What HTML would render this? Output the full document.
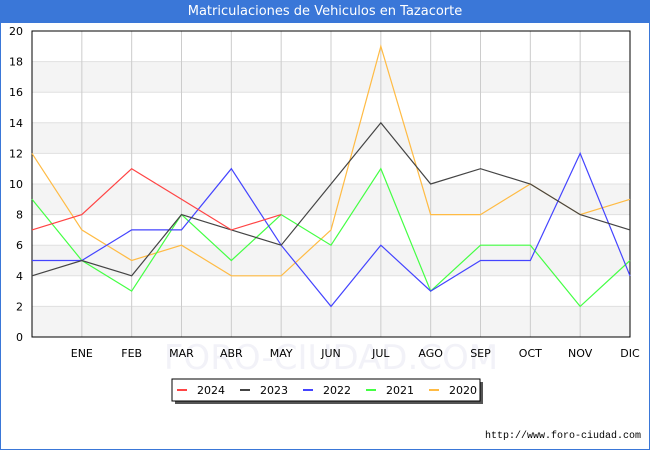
<!DOCTYPE html>
<html><head><meta charset="utf-8"><style>
body{margin:0;background:#fff;font-family:"DejaVu Sans","Liberation Sans",sans-serif;}
#wrap{position:relative;width:648px;height:448px;border:1px solid #3a77d8;overflow:hidden;}
#title{position:absolute;left:0;top:0;width:648px;height:22px;background:#3a77d8;color:#fff;font-size:13px;text-align:center;line-height:22px;}
</style></head><body>
<div id="wrap">
<div id="title">Matriculaciones de Vehiculos en Tazacorte</div>
<svg id="svg" width="648" height="448" style="position:absolute;left:0;top:0"></svg>
</div>
<script>
const months=["","ENE","FEB","MAR","ABR","MAY","JUN","JUL","AGO","SEP","OCT","NOV","DIC"];
const yTicks=[0,2,4,6,8,10,12,14,16,18,20];
const seriesNames=["2024","2023","2022","2021","2020"];
const seriesColors=["#ff4444","#444444","#4444ff","#44ff44","#ffbb44"];
const s2024=[7,8,11,9,7,8];
const s2023=[4,5,4,8,7,6,10,14,10,11,10,8,7];
const s2022=[5,5,7,7,11,6,2,6,3,5,5,12,4];
const s2021=[9,5,3,8,5,8,6,11,3,6,6,2,5];
const s2020=[12,7,5,6,4,4,7,19,8,8,10,8,9];
const seriesData=[s2024,s2023,s2022,s2021,s2020];
const svg=document.getElementById('svg');const NS="http://www.w3.org/2000/svg";
const L=31,R=629,T=30,B=336;
const x=i=>L+(R-L)*i/12, y=v=>B-(B-T)*v/20;
function mk(t,a,p){const e=document.createElementNS(NS,t);for(const k in a)e.setAttribute(k,a[k]);(p||svg).appendChild(e);return e;}
for(let i=0;i<10;i++){if(i%2==0){const r=mk('rect',{x:L,y:y(2*i+2),width:R-L,height:y(2*i)-y(2*i+2),fill:'#f4f4f4'});}}
const wm=mk('text',{x:330,y:368,'text-anchor':'middle','font-size':34,fill:'#f2f2f8'});wm.textContent="FORO-CIUDAD.COM";
yTicks.forEach(v=>{const g=mk('line',{x1:L,x2:R,y1:y(v),y2:y(v),stroke:'#e0e0e0'});
const t=mk('text',{x:L-9,y:y(v)+4,'text-anchor':'end','font-size':11,fill:'#000'});t.textContent=v;});
months.forEach((m,i)=>{const g=mk('line',{x1:x(i),x2:x(i),y1:T,y2:B,stroke:'#cccccc'});
const t=mk('text',{x:x(i),y:356,'text-anchor':'middle','font-size':11,fill:'#000'});t.textContent=m;});
const bx=mk('rect',{x:L,y:T,width:R-L,height:B-T,fill:'none',stroke:'#000'});
for(let s=seriesData.length-1;s>=0;s--){const pts=seriesData[s].map((v,i)=>x(i)+','+y(v)).join(' ');
const p=mk('polyline',{points:pts,fill:'none',stroke:seriesColors[s],'stroke-width':1.2});}
const lg=mk('g',{});
mk('rect',{x:174,y:381,width:308,height:22,fill:'#555'},lg);
mk('rect',{x:171,y:378,width:308,height:22,fill:'#fff',stroke:'#000'},lg);
seriesNames.forEach((n,i)=>{const ox=176+i*63;
const ln=mk('line',{x1:ox,x2:ox+10,y1:389,y2:389,stroke:seriesColors[i],'stroke-width':2},lg);
const t=mk('text',{x:ox+20,y:393,'font-size':11,fill:'#000'},lg);t.textContent=n;});
const u=mk('text',{x:640,y:437,'text-anchor':'end','font-size':10,fill:'#000','font-family':'Liberation Mono, monospace'});u.textContent="http://www.foro-ciudad.com";
</script>
</body></html>
